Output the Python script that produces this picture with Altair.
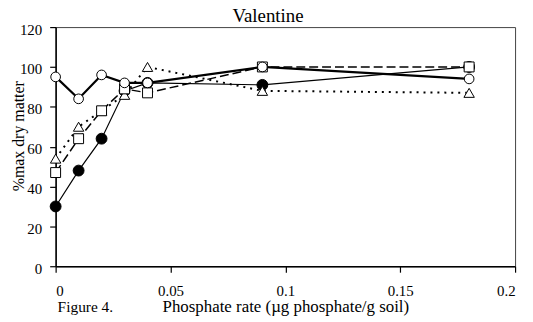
import altair as alt
import pandas as pd

x_vals = [0, 0.01, 0.02, 0.03, 0.04, 0.09, 0.18]
open_circle = [95, 84, 96, 92, 92, 100, 94]
filled_circle = [30, 48, 64, 88, 92, 91, 100]
open_square = [47, 64, 78, 89, 87, 100, 100]
open_triangle = [54, 70, 78, 86, 100, 88, 87]

FONT = "Liberation Serif"

def df(vals):
    return pd.DataFrame({"x": x_vals, "y": vals})

xs = alt.Scale(domain=[0, 0.2], nice=False)
ys = alt.Scale(domain=[0, 120], nice=False)

xenc = alt.X("x:Q", scale=xs, axis=alt.Axis(
    values=[0, 0.05, 0.1, 0.15, 0.2], format="~g",
    title="Phosphate rate (\u00b5g phosphate/g soil)",
    titleX=231.5, titleY=46, titleBaseline="alphabetic", titleAlign="center",
    titleFontSize=17,
    labelBaseline="alphabetic", labelPadding=23))
yenc = alt.Y("y:Q", scale=ys, axis=alt.Axis(
    values=[0, 20, 40, 60, 80, 100, 120],
    title="%max dry matter", titleX=-32, titleY=109.5, titleAngle=270,
    titleBaseline="alphabetic", titleAlign="center", titleFontSize=16,
    labelPadding=8, labelBaseline="middle", labelOffset=2))

def line(vals, width, dash=None):
    kw = dict(color="black", strokeWidth=width)
    if dash:
        kw["strokeDash"] = dash
    return alt.Chart(df(vals)).mark_line(**kw).encode(x=xenc, y=yenc)

def pts(vals, shape, filled, size):
    return alt.Chart(df(vals)).mark_point(
        shape=shape, filled=True, size=size, opacity=1,
        fill="black" if filled else "white", stroke="black", strokeWidth=1
    ).encode(x=xenc, y=yenc)

def label(txt, px, py, size, align):
    return alt.Chart(pd.DataFrame({"t": [txt]})).mark_text(
        align=align, baseline="alphabetic", font=FONT, fontSize=size, color="black"
    ).encode(x=alt.value(px), y=alt.value(py), text="t:N")

chart = alt.layer(
    line(filled_circle, 1.2),
    line(open_triangle, 2, [2, 5]),
    line(open_square, 1.5, [9, 4]),
    line(open_circle, 2.2),
    pts(filled_circle, "circle", True, 120),
    pts(open_triangle, "triangle-up", False, 110),
    pts(open_square, "square", False, 100),
    pts(open_circle, "circle", False, 95),
    label("Figure 4.", 2, 287, 15.5, "left"),
    label("Valentine", 214, -5, 19, "center"),
).properties(
    width=463, height=241,
    autosize=alt.AutoSizeParams(type="none"),
    padding={"left": 48, "top": 18, "right": 10, "bottom": 60},
).configure(
    font=FONT
).configure_view(
    stroke="#444", strokeWidth=1
).configure_axis(
    grid=False, domainColor="black", domainWidth=1.5, tickColor="black",
    tickWidth=1.2, tickSize=6, labelFont=FONT, labelFontSize=15,
    labelColor="black", titleFont=FONT,
    titleFontWeight="normal", titleColor="black"
)

chart.save("out.html", embed_options={"renderer": "svg", "actions": False})
